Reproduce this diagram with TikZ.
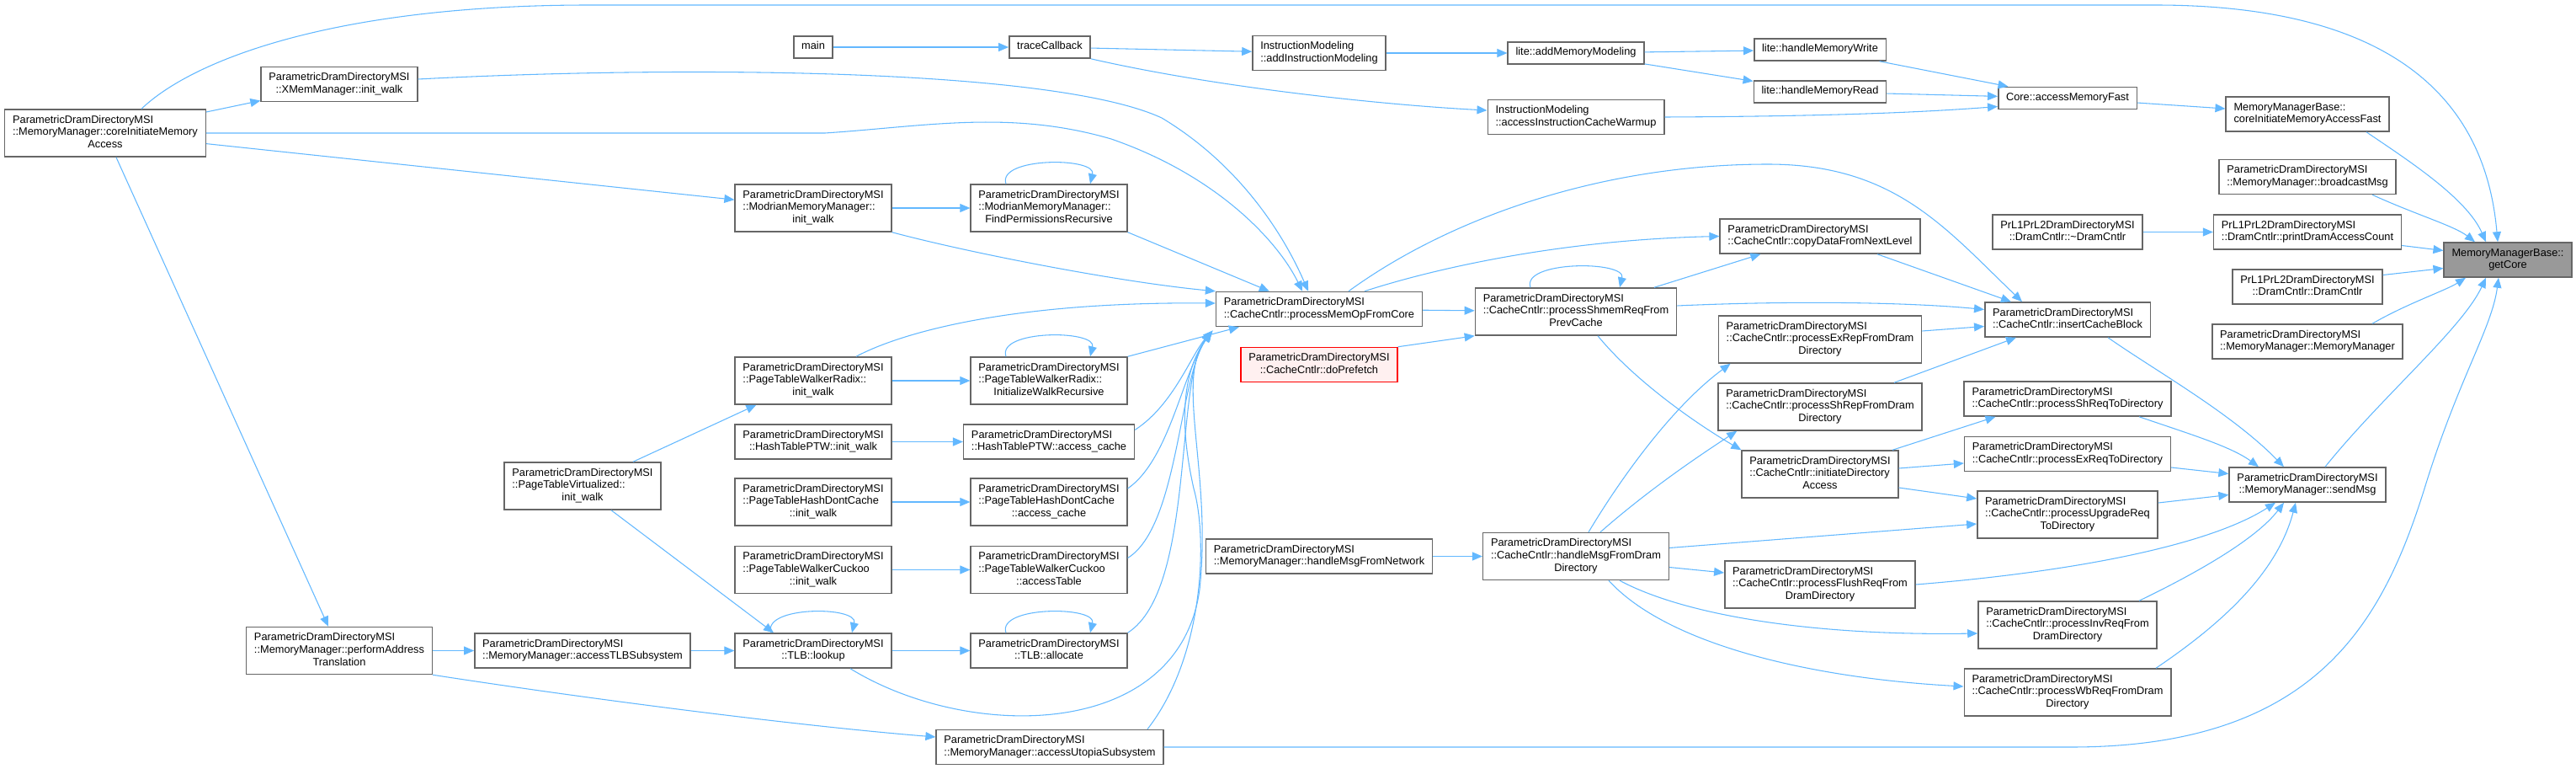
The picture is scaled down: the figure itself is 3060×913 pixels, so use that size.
\documentclass[tikz,border=0pt]{standalone}
\usepackage{fontspec}
\setmainfont{Liberation Sans}
\usetikzlibrary{arrows.meta, calc}

\definecolor{edgeblue}{HTML}{63B8FF}
\definecolor{boxgray}{HTML}{666666}
\definecolor{curfill}{HTML}{999999}
\definecolor{nodocfill}{HTML}{FFF0F0}

% one line / several lines, last line centred
\newcommand{\fn}[1]{\begin{tabular}{@{}c@{}}#1\end{tabular}}
\newcommand{\fnl}[2]{\begin{tabular}{@{}l@{}}#1\\\multicolumn{1}{@{}c@{}}{#2}\end{tabular}}

\begin{document}
\begin{tikzpicture}[
        x=0.75pt, y=-0.75pt,
        fnode/.style={rectangle, draw=boxgray, line width=1.1pt, fill=white, inner xsep=7pt, inner ysep=4.2pt, font=\fontsize{9.6}{11.2}\selectfont},
        curnode/.style={fnode, fill=curfill},
        nodoc/.style={fnode, draw=red, fill=nodocfill},
        callarrow/.style={draw=edgeblue, line width=0.8pt, -{Triangle[length=9pt, width=7.5pt]}}
    ]
    \useasboundingbox (0,0) rectangle (3060,913);

    % Functions
    \node[fnode] (cima) at (125,158) {\fnl{ParametricDramDirectoryMSI\\::MemoryManager::coreInitiateMemory}{Access}};
    \node[fnode] (main) at (966,56) {\fn{main}};
    \node[fnode] (xmem) at (403,100) {\fnl{ParametricDramDirectoryMSI}{::XMemManager::init\_walk}};
    \node[fnode] (modinit) at (966,247) {\fnl{ParametricDramDirectoryMSI\\::ModrianMemoryManager::}{init\_walk}};
    \node[fnode] (ptwrinit) at (966,452) {\fnl{ParametricDramDirectoryMSI\\::PageTableWalkerRadix::}{init\_walk}};
    \node[fnode] (htinit) at (966,524.5) {\fnl{ParametricDramDirectoryMSI}{::HashTablePTW::init\_walk}};
    \node[fnode] (ptvinit) at (692,577) {\fnl{ParametricDramDirectoryMSI\\::PageTableVirtualized::}{init\_walk}};
    \node[fnode] (pthdcinit) at (966,596) {\fnl{ParametricDramDirectoryMSI\\::PageTableHashDontCache}{::init\_walk}};
    \node[fnode] (cuckinit) at (966,676.5) {\fnl{ParametricDramDirectoryMSI\\::PageTableWalkerCuckoo}{::init\_walk}};
    \node[fnode] (pat) at (403,772.5) {\fnl{ParametricDramDirectoryMSI\\::MemoryManager::performAddress}{Translation}};
    \node[fnode] (atlb) at (692,772.5) {\fnl{ParametricDramDirectoryMSI}{::MemoryManager::accessTLBSubsystem}};
    \node[fnode] (lookup) at (966,772.5) {\fnl{ParametricDramDirectoryMSI}{::TLB::lookup}};

    \node[fnode] (trace) at (1247,56) {\fn{traceCallback}};
    \node[fnode] (addinstr) at (1567,63) {\fnl{InstructionModeling}{::addInstructionModeling}};
    \node[fnode] (addmem) at (1872,63) {\fn{lite::addMemoryModeling}};
    \node[fnode] (warmup) at (1872,139) {\fnl{InstructionModeling}{::accessInstructionCacheWarmup}};
    \node[fnode] (findperm) at (1246,247) {\fnl{ParametricDramDirectoryMSI\\::ModrianMemoryManager::}{FindPermissionsRecursive}};
    \node[fnode] (memop) at (1567,367) {\fnl{ParametricDramDirectoryMSI}{::CacheCntlr::processMemOpFromCore}};
    \node[fnode] (shmem) at (1872,370) {\fnl{ParametricDramDirectoryMSI\\::CacheCntlr::processShmemReqFrom}{PrevCache}};
    \node[nodoc] (prefetch) at (1567,433) {\fnl{ParametricDramDirectoryMSI}{::CacheCntlr::doPrefetch}};
    \node[fnode] (initwalk) at (1246,452) {\fnl{ParametricDramDirectoryMSI\\::PageTableWalkerRadix::}{InitializeWalkRecursive}};
    \node[fnode] (htcache) at (1246,524.5) {\fnl{ParametricDramDirectoryMSI}{::HashTablePTW::access\_cache}};
    \node[fnode] (pthdccache) at (1246,596) {\fnl{ParametricDramDirectoryMSI\\::PageTableHashDontCache}{::access\_cache}};
    \node[fnode] (accesstable) at (1246,676.5) {\fnl{ParametricDramDirectoryMSI\\::PageTableWalkerCuckoo}{::accessTable}};
    \node[fnode] (allocate) at (1246,772.5) {\fnl{ParametricDramDirectoryMSI}{::TLB::allocate}};
    \node[fnode] (utopia) at (1247,887) {\fnl{ParametricDramDirectoryMSI}{::MemoryManager::accessUtopiaSubsystem}};
    \node[fnode] (netmsg) at (1567,660.5) {\fnl{ParametricDramDirectoryMSI}{::MemoryManager::handleMsgFromNetwork}};
    \node[fnode] (drammsg) at (1872,660.5) {\fnl{ParametricDramDirectoryMSI\\::CacheCntlr::handleMsgFromDram}{Directory}};

    \node[fnode] (memwrite) at (2162,59) {\fn{lite::handleMemoryWrite}};
    \node[fnode] (memread) at (2162,109) {\fn{lite::handleMemoryRead}};
    \node[fnode] (amf) at (2456,116.5) {\fn{Core::accessMemoryFast}};
    \node[fnode] (cimaf) at (2741,135.5) {\fnl{MemoryManagerBase::}{coreInitiateMemoryAccessFast}};
    \node[fnode] (bcast) at (2741,210) {\fnl{ParametricDramDirectoryMSI}{::MemoryManager::broadcastMsg}};
    \node[fnode] (dtor) at (2456,275.5) {\fnl{PrL1PrL2DramDirectoryMSI}{::DramCntlr::\textasciitilde DramCntlr}};
    \node[fnode] (printdram) at (2741,275.5) {\fnl{PrL1PrL2DramDirectoryMSI}{::DramCntlr::printDramAccessCount}};
    \node[curnode] (getcore) at (2979,308.5) {\fnl{MemoryManagerBase::}{getCore}};
    \node[fnode] (dramctor) at (2741,340.5) {\fnl{PrL1PrL2DramDirectoryMSI}{::DramCntlr::DramCntlr}};
    \node[fnode] (mmctor) at (2741,405.5) {\fnl{ParametricDramDirectoryMSI}{::MemoryManager::MemoryManager}};
    \node[fnode] (copydata) at (2162,280.5) {\fnl{ParametricDramDirectoryMSI}{::CacheCntlr::copyDataFromNextLevel}};
    \node[fnode] (insert) at (2456,379.5) {\fnl{ParametricDramDirectoryMSI}{::CacheCntlr::insertCacheBlock}};
    \node[fnode] (exrep) at (2162,403) {\fnl{ParametricDramDirectoryMSI\\::CacheCntlr::processExRepFromDram}{Directory}};
    \node[fnode] (shrep) at (2162,483) {\fnl{ParametricDramDirectoryMSI\\::CacheCntlr::processShRepFromDram}{Directory}};
    \node[fnode] (shreq) at (2456,473.5) {\fnl{ParametricDramDirectoryMSI}{::CacheCntlr::processShReqToDirectory}};
    \node[fnode] (initdir) at (2162,563) {\fnl{ParametricDramDirectoryMSI\\::CacheCntlr::initiateDirectory}{Access}};
    \node[fnode] (exreq) at (2456,539) {\fnl{ParametricDramDirectoryMSI}{::CacheCntlr::processExReqToDirectory}};
    \node[fnode] (sendmsg) at (2741,575.5) {\fnl{ParametricDramDirectoryMSI}{::MemoryManager::sendMsg}};
    \node[fnode] (upgrade) at (2456,611) {\fnl{ParametricDramDirectoryMSI\\::CacheCntlr::processUpgradeReq}{ToDirectory}};
    \node[fnode] (flush) at (2162,694) {\fnl{ParametricDramDirectoryMSI\\::CacheCntlr::processFlushReqFrom}{DramDirectory}};
    \node[fnode] (invreq) at (2456,742) {\fnl{ParametricDramDirectoryMSI\\::CacheCntlr::processInvReqFrom}{DramDirectory}};
    \node[fnode] (wbreq) at (2456,822) {\fnl{ParametricDramDirectoryMSI\\::CacheCntlr::processWbReqFromDram}{Directory}};

    % Calls from the left part
    \draw[callarrow] ($(cima.north)+(43,0)$) .. controls (230,70) and (400,6) .. (700,6) -- (2560,6) .. controls (2880,6) and (2955,150) .. ($(getcore.north)+(-12,0)$);
    \draw[callarrow] (cima) -- (xmem);
    \draw[callarrow] (cima.east) -- (980,158) .. controls (1100,150) and (1200,130) .. (1320,165) .. controls (1450,210) and (1520,290) .. ($(memop.north)+(-20,0)$);
    \draw[callarrow] ($(xmem.east)+(0,-6)$) .. controls (800,78) and (1250,80) .. (1380,140) .. controls (1480,200) and (1530,290) .. ($(memop.north)+(-13,0)$);
    \draw[callarrow] (cima) -- (modinit);
    \draw[callarrow] (cima) -- (pat);
    \draw[callarrow] (pat) -- (atlb);
    \draw[callarrow] (atlb) -- (lookup);
    \draw[callarrow] (pat.south east) .. controls (700,830) and (950,862) .. ($(utopia.west)+(0,-12)$);
    \draw[callarrow] ($(ptvinit.north)+(60,0)$) -- ($(ptwrinit.south west)+(26,0)$);
    \draw[callarrow] ($(ptvinit.south)+(34,0)$) -- ($(lookup.north)+(-47,0)$);

    % Calls through the walkers
    \draw[callarrow] (modinit) -- (findperm);
    \draw[callarrow] ($(findperm.north)+(-51,0)$) .. controls ($(findperm.north)+(-62,-32)$) and ($(findperm.north)+(57,-32)$) .. ($(findperm.north)+(49,0)$);
    \draw[callarrow] (findperm.south east) -- ($(memop.north west)+(64,0)$);
    \draw[callarrow] (modinit.south east) .. controls (1150,300) and (1330,335) .. (memop.north west);
    \draw[callarrow] ($(ptwrinit.north)+(51,0)$) .. controls (1070,395) and (1200,358) .. ($(memop.west)+(0,-7)$);
    \draw[callarrow] (ptwrinit) -- (initwalk);
    \draw[callarrow] ($(initwalk.north)+(-51,0)$) .. controls ($(initwalk.north)+(-62,-32)$) and ($(initwalk.north)+(57,-32)$) .. ($(initwalk.north)+(49,0)$);
    \draw[callarrow] (initwalk.north east) -- ($(memop.south west)+(28,0)$);
    \draw[callarrow] (htinit) -- (htcache);
    \draw[callarrow] ($(htcache.east)+(0,-14)$) .. controls (1395,480) and (1415,420) .. ($(memop.south west)+(-3,4)$);
    \draw[callarrow] (pthdcinit) -- (pthdccache);
    \draw[callarrow] ($(pthdccache.east)+(0,-16)$) .. controls (1390,545) and (1405,440) .. ($(memop.south west)+(-4,5)$);
    \draw[callarrow] (cuckinit) -- (accesstable);
    \draw[callarrow] ($(accesstable.east)+(0,-14)$) .. controls (1400,625) and (1400,450) .. ($(memop.south west)+(-5,6)$);
    \draw[callarrow] (lookup) -- (allocate);
    \draw[callarrow] ($(allocate.north)+(-51,0)$) .. controls ($(allocate.north)+(-62,-32)$) and ($(allocate.north)+(57,-32)$) .. ($(allocate.north)+(49,0)$);
    \draw[callarrow] (allocate.north east) .. controls (1420,700) and (1395,450) .. ($(memop.south west)+(-5,6)$);
    \draw[callarrow] ($(lookup.north)+(-50,0)$) .. controls ($(lookup.north)+(-61,-32)$) and ($(lookup.north)+(54,-32)$) .. ($(lookup.north)+(46,0)$);
    \draw[callarrow] ($(lookup.south)+(44,0)$) .. controls (1150,880) and (1400,880) .. (1425,700) .. controls (1440,560) and (1395,450) .. ($(memop.south west)+(-4,5)$);
    \draw[callarrow] ($(utopia.north)+(116,0)$) .. controls (1430,780) and (1435,640) .. (1418,580) .. controls (1400,500) and (1405,440) .. ($(memop.south west)+(-4,5)$);
    \draw[callarrow] (utopia.east) -- (2460,887) .. controls (2750,887) and (2830,740) .. (2880,580) .. controls (2920,450) and (2960,390) .. ($(getcore.south)+(-11,0)$);

    % Instruction path
    \draw[callarrow] (main) -- (trace);
    \draw[callarrow] (trace) -- (addinstr);
    \draw[callarrow] (trace.south east) .. controls (1450,105) and (1650,125) .. ($(warmup.west)+(0,-8)$);
    \draw[callarrow] (addinstr) -- (addmem);
    \draw[callarrow] (addmem) -- (memwrite);
    \draw[callarrow] (addmem) -- (memread);
    \draw[callarrow] (memwrite) -- (amf);
    \draw[callarrow] (memread) -- (amf);
    \draw[callarrow] (warmup.east) .. controls (2200,138) and (2300,132) .. ($(amf.west)+(0,10)$);
    \draw[callarrow] (amf) -- (cimaf);

    % Cache controller
    \draw[callarrow] (memop) -- (shmem);
    \draw[callarrow] (prefetch.north east) -- (shmem.south west);
    \draw[callarrow] ($(memop.north)+(54,0)$) .. controls (1700,320) and (1850,285) .. (copydata.west);
    \draw[callarrow] ($(memop.north)+(35,0)$) .. controls (1720,260) and (1900,195) .. (2100,195) .. controls (2250,195) and (2310,270) .. ($(insert.north)+(-54,0)$);
    \draw[callarrow] ($(shmem.north)+(-54,0)$) .. controls ($(shmem.north)+(-65,-32)$) and ($(shmem.north)+(60,-32)$) .. ($(shmem.north)+(52,0)$);
    \draw[callarrow] ($(shmem.north)+(93,0)$) -- ($(copydata.south west)+(49,0)$);
    \draw[callarrow] ($(shmem.east)+(0,-7)$) .. controls (2150,356) and (2280,360) .. ($(insert.west)+(0,-12)$);
    \draw[callarrow] ($(shmem.south)+(26,0)$) .. controls (1940,450) and (2010,500) .. (initdir.north west);
    \draw[callarrow] ($(copydata.south)+(68,0)$) -- ($(insert.north)+(-67,0)$);
    \draw[callarrow] ($(exrep.east)+(0,-10)$) -- ($(insert.west)+(0,8)$);
    \draw[callarrow] ($(shrep.north)+(88,0)$) -- ($(insert.south)+(-61,0)$);
    \draw[callarrow] ($(insert.south)+(48,0)$) .. controls (2560,440) and (2650,490) .. ($(sendmsg.north)+(-28,0)$);
    \draw[callarrow] (netmsg) -- (drammsg);
    \draw[callarrow] ($(drammsg.north)+(15,0)$) .. controls (1930,560) and (1990,480) .. ($(exrep.south west)+(15,0)$);
    \draw[callarrow] ($(drammsg.north)+(29,0)$) .. controls (1960,580) and (2020,540) .. ($(shrep.south west)+(23,0)$);
    \draw[callarrow] ($(drammsg.east)+(0,-10)$) -- ($(upgrade.west)+(0,11)$);
    \draw[callarrow] ($(drammsg.east)+(0,13)$) -- ($(flush.west)+(0,-14)$);
    \draw[callarrow] ($(drammsg.south)+(52,0)$) .. controls (2000,730) and (2150,755) .. ($(invreq.west)+(0,10)$);
    \draw[callarrow] ($(drammsg.south)+(39,0)$) .. controls (1980,765) and (2150,805) .. ($(wbreq.west)+(0,-7)$);
    \draw[callarrow] ($(initdir.north)+(86,0)$) -- ($(shreq.south west)+(38,0)$);
    \draw[callarrow] ($(initdir.east)+(0,-7)$) -- ($(exreq.west)+(0,11)$);
    \draw[callarrow] ($(initdir.east)+(0,16)$) -- ($(upgrade.west)+(0,-19)$);
    \draw[callarrow] ($(shreq.south)+(85,0)$) .. controls (2600,515) and (2650,530) .. ($(sendmsg.north)+(-58,0)$);
    \draw[callarrow] ($(exreq.east)+(0,16)$) -- ($(sendmsg.west)+(0,-13)$);
    \draw[callarrow] ($(upgrade.east)+(0,-14)$) -- ($(sendmsg.west)+(0,12)$);
    \draw[callarrow] (flush.east) .. controls (2450,680) and (2620,650) .. ($(sendmsg.south)+(-38,0)$);
    \draw[callarrow] ($(invreq.north)+(85,0)$) .. controls (2610,680) and (2680,640) .. ($(sendmsg.south)+(-28,0)$);
    \draw[callarrow] ($(wbreq.north)+(105,0)$) .. controls (2640,740) and (2705,680) .. ($(sendmsg.south)+(-14,0)$);

    % Into getCore
    \draw[callarrow] ($(cimaf.south)+(70,0)$) .. controls (2860,190) and (2930,235) .. ($(getcore.north)+(-26,0)$);
    \draw[callarrow] ($(bcast.south)+(77,0)$) .. controls (2870,255) and (2915,268) .. ($(getcore.north)+(-39,0)$);
    \draw[callarrow] (dtor) -- (printdram);
    \draw[callarrow] ($(printdram.east)+(0,16)$) -- ($(getcore.west)+(0,-11)$);
    \draw[callarrow] ($(dramctor.east)+(0,-14)$) -- ($(getcore.west)+(0,10)$);
    \draw[callarrow] ($(mmctor.north)+(77,0)$) .. controls (2860,360) and (2905,345) .. ($(getcore.south)+(-50,0)$);
    \draw[callarrow] ($(sendmsg.north)+(21,0)$) .. controls (2830,470) and (2925,390) .. ($(getcore.south)+(-26,0)$);

\end{tikzpicture}
\end{document}
